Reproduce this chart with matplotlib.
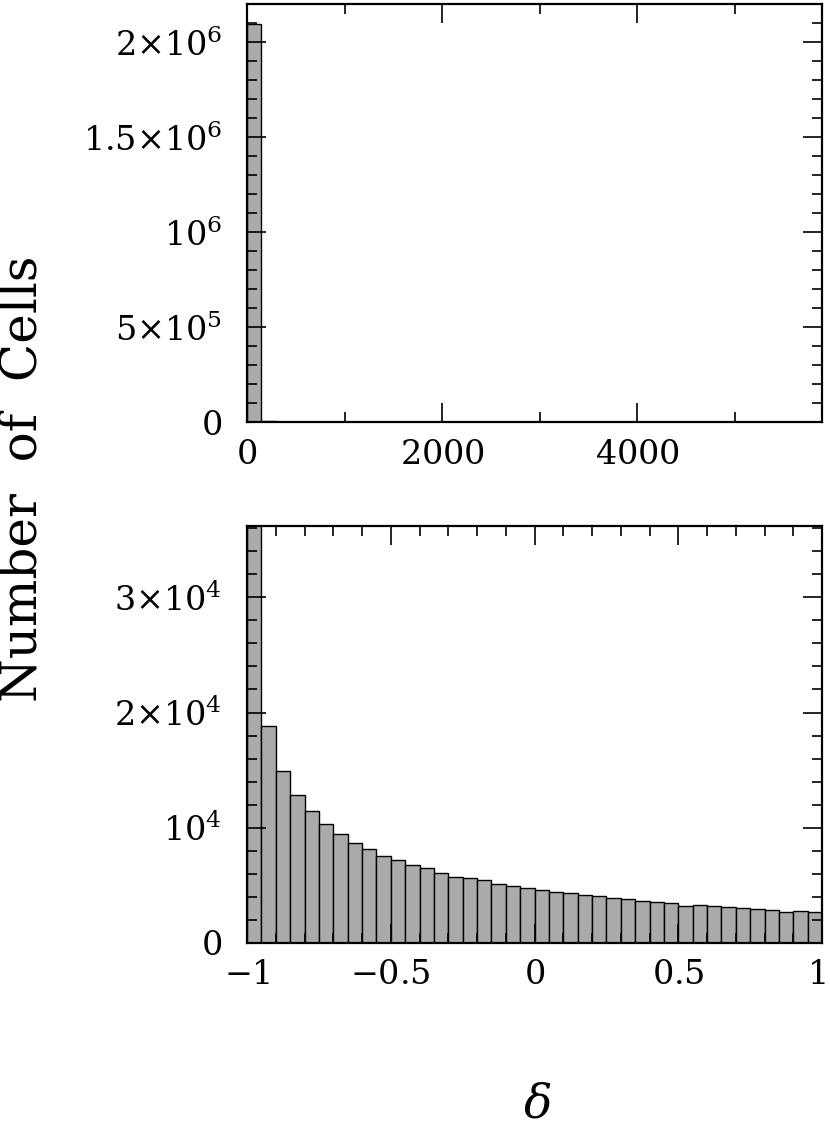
import numpy as np
import matplotlib
matplotlib.use("Agg")
from matplotlib import pyplot as plt
from matplotlib.ticker import MultipleLocator
from matplotlib.transforms import ScaledTranslation

plt.rcParams['mathtext.fontset'] = 'dejavuserif'
plt.rcParams['font.family'] = 'serif'
plt.rcParams['font.serif'] = ['DejaVu Serif']

# top panel: full range of delta, 40 bins up to the max value
top_max = 5897.0
top_counts = [2.095e6, 5.0e3] + [0.0] * 38

# bottom panel: delta in [-1, 1], 40 bins
bot_edges = np.linspace(-1, 1, 41)
bot_counts = [5.2e4, 1.884e4, 1.496e4, 1.287e4, 1.143e4, 1.032e4, 0.943e4, 0.864e4,
              0.815e4, 0.757e4, 0.719e4, 0.673e4, 0.652e4, 0.603e4, 0.571e4, 0.563e4,
              0.543e4, 0.508e4, 0.496e4, 0.473e4, 0.461e4, 0.441e4, 0.435e4, 0.417e4,
              0.409e4, 0.391e4, 0.380e4, 0.363e4, 0.351e4, 0.348e4, 0.322e4, 0.328e4,
              0.322e4, 0.308e4, 0.299e4, 0.293e4, 0.282e4, 0.270e4, 0.276e4, 0.267e4]

top_yticks = [0, 5e5, 1e6, 1.5e6, 2e6]
top_ylabels = [r'$0$', r'$5{\times}10^5$', r'$10^6$', r'$1.5{\times}10^6$', r'$2{\times}10^6$']
top_xticks = [0, 2000, 4000]
top_xlabels = [r'$0$', r'$2000$', r'$4000$']
bot_yticks = [0, 1e4, 2e4, 3e4]
bot_ylabels = [r'$0$', r'$10^4$', r'$2{\times}10^4$', r'$3{\times}10^4$']
bot_xticks = [-1, -0.5, 0, 0.5, 1]
bot_xlabels = [r'$-1$', r'$-0.5$', r'$0$', r'$0.5$', r'$1$']

fig = plt.figure(figsize=(8.3, 11.3), dpi=100)
ax1 = fig.add_axes([0.2976, 0.6265, 0.6928, 0.3699])
ax2 = fig.add_axes([0.2976, 0.1657, 0.6928, 0.3688])

bar_col = '#aaaaaa'
top_edges = np.linspace(0, top_max, 41)
ax1.bar(top_edges[:-1], top_counts, width=np.diff(top_edges), align='edge',
        color=bar_col, edgecolor='black', linewidth=1.0)
ax2.bar(bot_edges[:-1], bot_counts, width=np.diff(bot_edges), align='edge',
        color=bar_col, edgecolor='black', linewidth=1.0)

ax1.set_xlim(0, top_max)
ax1.set_ylim(0, 2.2e6)
ax1.set_xticks(top_xticks)
ax1.set_xticklabels(top_xlabels)
ax1.set_yticks(top_yticks)
ax1.set_yticklabels(top_ylabels)
ax1.xaxis.set_minor_locator(MultipleLocator(1000))
ax1.yaxis.set_minor_locator(MultipleLocator(1e5))

ax2.set_xlim(-1, 1)
ax2.set_ylim(0, 3.62e4)
ax2.set_xticks(bot_xticks)
ax2.set_xticklabels(bot_xlabels)
ax2.set_yticks(bot_yticks)
ax2.set_yticklabels(bot_ylabels)
ax2.xaxis.set_minor_locator(MultipleLocator(0.1))
ax2.yaxis.set_minor_locator(MultipleLocator(2000))

for ax in (ax1, ax2):
    for s in ax.spines.values():
        s.set_linewidth(1.6)
    ax.tick_params(which='both', direction='in', top=True, right=True, width=1.2)
    ax.tick_params(which='major', length=13.5)
    ax.tick_params(which='minor', length=7)
    ax.tick_params(axis='y', which='major', labelsize=24, pad=18)
    ax.tick_params(axis='x', which='major', labelsize=24, pad=12)

# keep the last bottom label inside the figure
last = ax2.get_xticklabels()[-1]
last.set_transform(last.get_transform() + ScaledTranslation(-6 / 100, 0, fig.dpi_scale_trans))

fig.text(0.028, 0.576, 'Number  of  Cells', rotation=90,
         fontsize=36, ha='center', va='center')
fig.text(0.647, 0.022, r'$\delta$', fontsize=34, ha='center', va='center')

fig.savefig('out.png', dpi=100)
